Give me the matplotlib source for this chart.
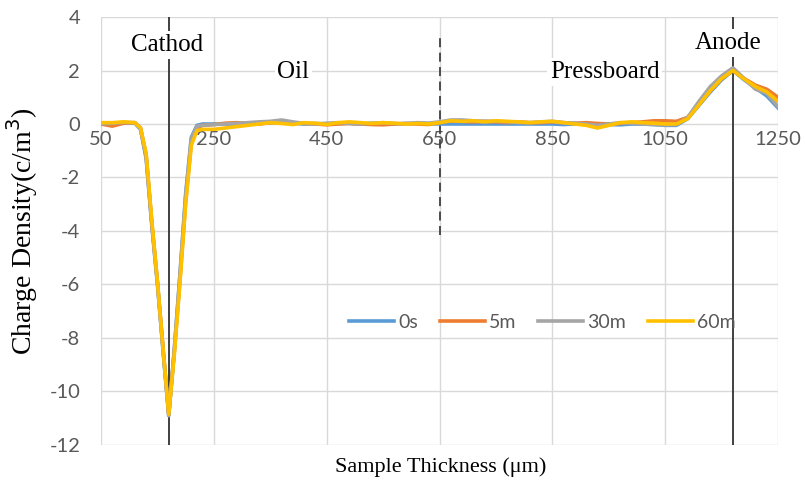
#!/usr/bin/env python3
"""Space charge density profiles across the oil / pressboard sample."""

import matplotlib

matplotlib.use("Agg")
import matplotlib.pyplot as plt

plt.rcParams["axes.unicode_minus"] = False

# sample positions (um)
thickness = [
    50, 70, 90, 110, 120, 130, 140, 150, 160, 170, 180, 190, 200, 210, 220,
    230, 250, 270, 290, 310, 330, 350, 370, 390, 410, 430, 450, 470, 490,
    510, 530, 550, 570, 590, 610, 630, 650, 670, 690, 710, 730, 750, 770,
    790, 810, 830, 850, 870, 890, 910, 930, 950, 970, 990, 1010, 1030, 1050,
    1070, 1090, 1110, 1130, 1150, 1170, 1190, 1210, 1230, 1250,
]

# charge density (C/m^3) after each poling time
rho_0s = [
    0.00, 0.02, 0.05, 0.03, -0.20, -1.30, -3.80, -6.00, -8.50, -10.90, -8.40, -5.60, -2.60, -0.50, -0.05,
    0.00, 0.00, 0.00, -0.02, 0.00, 0.02, 0.05, 0.05, 0.03, 0.00, 0.02, 0.00, 0.02, 0.03,
    0.00, 0.02, 0.00, 0.00, 0.02, 0.03, 0.02, 0.00, 0.00, 0.00, 0.00, 0.00, 0.00, 0.00,
    0.00, 0.00, 0.00, 0.00, -0.02, 0.00, 0.00, 0.00, -0.02, -0.03, 0.00, 0.00, -0.02, -0.05,
    -0.05, 0.20, 0.70, 1.20, 1.65, 2.00, 1.65, 1.35, 1.05, 0.60,
]
rho_5m = [
    0.00, -0.08, 0.03, 0.05, -0.15, -1.20, -3.70, -5.90, -8.40, -10.85, -8.50, -5.80, -2.90, -0.70, -0.15,
    -0.05, -0.02, 0.03, 0.05, 0.02, 0.00, 0.05, 0.08, 0.05, 0.02, 0.00, -0.03, 0.00, 0.02,
    0.00, -0.02, -0.03, 0.00, 0.02, 0.00, -0.02, 0.05, 0.12, 0.10, 0.08, 0.10, 0.08, 0.05,
    0.08, 0.05, 0.05, 0.08, 0.05, 0.03, 0.05, 0.02, 0.00, 0.02, 0.05, 0.08, 0.12, 0.12,
    0.10, 0.25, 0.75, 1.25, 1.70, 2.00, 1.70, 1.45, 1.30, 1.00,
]
rho_30m = [
    0.00, 0.03, 0.06, 0.05, -0.15, -1.20, -3.70, -5.95, -8.45, -10.90, -8.40, -5.60, -2.70, -0.55, -0.08,
    -0.05, -0.02, 0.00, 0.02, 0.05, 0.08, 0.10, 0.15, 0.08, 0.02, 0.00, 0.03, 0.05, 0.02,
    0.00, 0.03, 0.05, 0.02, 0.00, 0.05, 0.03, 0.08, 0.15, 0.15, 0.12, 0.10, 0.10, 0.08,
    0.05, 0.05, 0.08, 0.10, 0.05, 0.03, 0.00, -0.05, 0.00, 0.05, 0.03, 0.00, -0.02, -0.03,
    -0.02, 0.25, 0.85, 1.40, 1.80, 2.10, 1.70, 1.30, 1.15, 0.65,
]
rho_60m = [
    0.05, 0.05, 0.08, 0.05, -0.15, -1.10, -3.60, -5.90, -8.40, -10.85, -8.60, -5.90, -3.00, -0.80, -0.25,
    -0.20, -0.20, -0.15, -0.10, -0.05, 0.00, 0.05, 0.02, -0.02, 0.05, 0.03, -0.02, 0.05, 0.08,
    0.05, 0.02, 0.05, 0.03, 0.00, 0.02, 0.00, 0.05, 0.12, 0.10, 0.12, 0.08, 0.12, 0.10,
    0.08, 0.05, 0.08, 0.10, 0.05, 0.00, -0.05, -0.15, -0.05, 0.05, 0.08, 0.05, 0.03, 0.00,
    0.00, 0.20, 0.72, 1.25, 1.70, 2.00, 1.68, 1.40, 1.20, 0.85,
]

SERIES = [
    ("0s", rho_0s, "#5B9BD5"),
    ("5m", rho_5m, "#ED7D31"),
    ("30m", rho_30m, "#A5A5A5"),
    ("60m", rho_60m, "#FFC000"),
]

x_ticks = [50, 250, 450, 650, 850, 1050, 1250]
y_ticks = [-12, -10, -8, -6, -4, -2, 0, 2, 4]

cathode_x = 170
anode_x = 1170
interface_x = 650

SERIF = "Liberation Serif"
TICK_FONT = "Lato"
TICK_COLOR = "#595959"
GRID_COLOR = "#D9D9D9"
LINE_COLOR = "#404040"


def main() -> None:
    fig = plt.figure(figsize=(8.05, 4.86), dpi=100)
    ax = fig.add_axes([0.1255, 0.0844, 0.841, 0.8806])

    for label, values, color in SERIES:
        ax.plot(thickness, values, color=color, linewidth=2.6, label=label,
                solid_joinstyle="round", zorder=3)

    ax.set_xlim(50, 1250)
    ax.set_ylim(-12, 4)
    ax.set_xticks(x_ticks)
    ax.set_yticks(y_ticks)
    ax.grid(True, color=GRID_COLOR, linewidth=1.0, zorder=0)
    ax.set_axisbelow(True)

    for side in ["top", "right", "left", "bottom"]:
        ax.spines[side].set_visible(False)
    # x labels sit on the zero line, as in a spreadsheet chart
    ax.spines["bottom"].set_position(("data", 0))

    ax.tick_params(axis="both", length=0, labelcolor=TICK_COLOR, labelsize=14.5)
    ax.tick_params(axis="y", pad=15)
    ax.tick_params(axis="x", pad=5)
    for tick in ax.get_xticklabels() + ax.get_yticklabels():
        tick.set_fontfamily(TICK_FONT)

    # electrode positions and the oil / pressboard interface
    ax.axvline(cathode_x, color=LINE_COLOR, linewidth=1.4, zorder=2)
    ax.axvline(anode_x, color=LINE_COLOR, linewidth=1.4, zorder=2)
    ax.plot([interface_x, interface_x], [-4.15, 3.2], color=LINE_COLOR,
            linewidth=1.3, linestyle=(0, (5, 3)), zorder=2)

    box = dict(facecolor="white", edgecolor="none", pad=2)
    ax.text(cathode_x - 3, 2.95, "Cathod", fontsize=18, family=SERIF,
            ha="center", va="center", bbox=box, zorder=4)
    ax.text(anode_x - 8, 3.02, "Anode", fontsize=18, family=SERIF,
            ha="center", va="center", bbox=box, zorder=4)
    ax.text(391, 1.95, "Oil", fontsize=18, family=SERIF,
            ha="center", va="center", bbox=box, zorder=4)
    ax.text(943, 1.95, "Pressboard", fontsize=18, family=SERIF,
            ha="center", va="center", bbox=box, zorder=4)

    fig.text(0.028, 0.525, "Charge Density(c/m$^3$)", rotation=90, fontsize=20,
             family=SERIF, ha="center", va="center")
    fig.text(0.547, 0.038, "Sample Thickness (\u03bcm)", fontsize=16,
             family=SERIF, ha="center", va="center")

    legend = ax.legend(loc="center", bbox_to_anchor=(0.652, 0.287), ncol=4,
                       frameon=False, handlelength=2.3, columnspacing=1.15,
                       handletextpad=0.2, prop={"family": TICK_FONT, "size": 14})
    for text in legend.get_texts():
        text.set_color(TICK_COLOR)

    fig.savefig("out.png", dpi=100)
    plt.close(fig)


if __name__ == "__main__":
    main()
